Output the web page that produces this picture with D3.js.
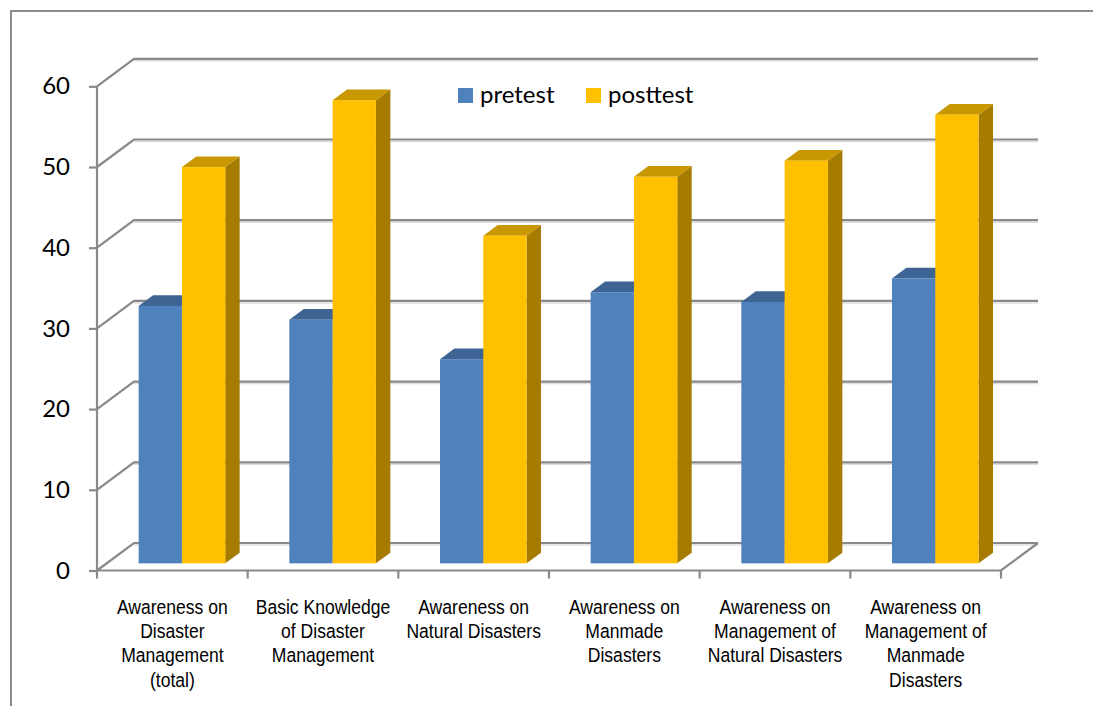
<!DOCTYPE html>
<html>
<head>
<meta charset="utf-8">
<script src="https://cdn.jsdelivr.net/npm/d3@7"></script>
<style>
  html, body { margin: 0; padding: 0; background: #fff; }
  svg { display: block; }
</style>
</head>
<body>
<svg id="chart" width="1093" height="706"></svg>
<script>
// Survey results: pretest vs posttest awareness scores
const categories = [
  ["Awareness on", "Disaster", "Management", "(total)"],
  ["Basic Knowledge", "of Disaster", "Management"],
  ["Awareness on", "Natural Disasters"],
  ["Awareness on", "Manmade", "Disasters"],
  ["Awareness on", "Management of", "Natural Disasters"],
  ["Awareness on", "Management of", "Manmade", "Disasters"]
];
const seriesNames = ["pretest", "posttest"];
const pretest  = [31.9, 30.2, 25.3, 33.6, 32.4, 35.3];
const posttest = [49.1, 57.4, 40.6, 47.9, 49.9, 55.6];
const yTicks = [0, 10, 20, 30, 40, 50, 60];

const colors = {
  pretest:  { front: "#4F81BD", top: "#3D6493", side: "#355A84" },
  posttest: { front: "#FFC000", top: "#C99700", side: "#A67C00" }
};

const svg = d3.select("#chart");
const W = 1093, H = 706;

// outer chart frame (top and left edges)
svg.append("path")
  .attr("d", `M11,${H} L11,11 L${W},11`)
  .attr("fill", "none").attr("stroke", "#8c8c8c").attr("stroke-width", 2);

// plot geometry (oblique 3D projection)
const x0 = 97, x1 = 1001;
const depth = { dx: 37, dy: -27.5 };           // full floor depth
const barFront = 0.26, barBack = 0.65;          // bar depth span as fraction of floor depth

const y = d3.scaleLinear().domain([0, 60]).range([570.5, 86.3]);
const xCat = d3.scaleBand().domain(d3.range(categories.length)).range([x0, x1]).paddingInner(0).paddingOuter(0);
const xSer = d3.scaleBand().domain(seriesNames).range([0, xCat.bandwidth()]).paddingInner(0).paddingOuter(0.74);

const gridColor = "#898989";
const shadowColor = "#dedede";

// walls: back-wall gridlines and side-wall diagonals
const grid = svg.append("g");
yTicks.forEach(v => {
  const yf = y(v), yb = y(v) + depth.dy;
  // soft shadow under back gridline
  grid.append("line")
    .attr("x1", x0 + depth.dx).attr("x2", x1 + depth.dx)
    .attr("y1", yb + 2).attr("y2", yb + 2)
    .attr("stroke", shadowColor).attr("stroke-width", 1.5);
  grid.append("path")
    .attr("d", `M${x0},${yf} L${x0 + depth.dx},${yb} L${x1 + depth.dx},${yb}`)
    .attr("fill", "none").attr("stroke", gridColor).attr("stroke-width", 2.2);
});

// floor: front edge and right diagonal
svg.append("path")
  .attr("d", `M${x0},${y(0)} L${x1},${y(0)} L${x1 + depth.dx},${y(0) + depth.dy}`)
  .attr("fill", "none").attr("stroke", gridColor).attr("stroke-width", 2.2);

// value axis (front left)
svg.append("line")
  .attr("x1", x0).attr("x2", x0).attr("y1", y(60)).attr("y2", y(0))
  .attr("stroke", gridColor).attr("stroke-width", 2.2);
const yAxis = d3.axisLeft(y).tickValues(yTicks).tickSize(8).tickPadding(19).tickFormat(d3.format("d"));
const yAxisG = svg.append("g").attr("transform", `translate(${x0},0)`).call(yAxis);
yAxisG.select(".domain").remove();
yAxisG.selectAll(".tick line").attr("stroke", gridColor).attr("stroke-width", 2.2);
yAxisG.selectAll(".tick text")
  .attr("fill", "#000")
  .style("font-family", "Lato, 'Open Sans', sans-serif")
  .style("font-size", "24px");

// category ticks along the floor front
d3.range(categories.length + 1).forEach(i => {
  const xx = x0 + i * xCat.step();
  svg.append("line")
    .attr("x1", xx).attr("x2", xx).attr("y1", y(0)).attr("y2", y(0) + 8)
    .attr("stroke", gridColor).attr("stroke-width", 2.2);
});

// bars
const offF = { dx: depth.dx * barFront, dy: depth.dy * barFront };
const dd = { dx: depth.dx * (barBack - barFront), dy: depth.dy * (barBack - barFront) };
const bars = svg.append("g");
categories.forEach((c, i) => {
  seriesNames.forEach(s => {
    const v = (s === "pretest" ? pretest : posttest)[i];
    const col = colors[s];
    const left = xCat(i) + xSer(s) + offF.dx;
    const right = left + xSer.bandwidth();
    const top = y(v) + offF.dy;
    const bot = y(0) + offF.dy;
    // right side
    bars.append("path")
      .attr("d", `M${right},${top} L${right + dd.dx},${top + dd.dy} L${right + dd.dx},${bot + dd.dy} L${right},${bot} Z`)
      .attr("fill", col.side);
    // top
    bars.append("path")
      .attr("d", `M${left},${top} L${left + dd.dx},${top + dd.dy} L${right + dd.dx},${top + dd.dy} L${right},${top} Z`)
      .attr("fill", col.top);
    // front
    bars.append("rect")
      .attr("x", left).attr("y", top)
      .attr("width", right - left).attr("height", bot - top)
      .attr("fill", col.front);
  });
});

// category labels (slightly condensed sans)
const labels = svg.append("g")
  .style("font-family", "'Liberation Sans', Arial, sans-serif")
  .style("font-size", "19.5px")
  .attr("fill", "#000")
  .attr("text-anchor", "middle");
categories.forEach((lines, i) => {
  const cx = xCat(i) + xCat.bandwidth() / 2;
  const t = labels.append("text")
    .attr("transform", `translate(${cx},613.5) scale(0.9,1)`)
    .attr("x", 0).attr("y", 0);
  lines.forEach((ln, k) => {
    t.append("tspan").attr("x", 0).attr("dy", k === 0 ? 0 : 24.5).text(ln);
  });
});

// legend
const legend = svg.append("g")
  .style("font-family", "Lato, 'Open Sans', sans-serif")
  .style("font-size", "24px");
const legendItems = [
  { name: "pretest", x: 458 },
  { name: "posttest", x: 586 }
];
legendItems.forEach(d => {
  legend.append("rect").attr("x", d.x).attr("y", 88).attr("width", 15).attr("height", 15)
    .attr("fill", colors[d.name].front);
  legend.append("text").attr("x", d.x + 22).attr("y", 103).attr("fill", "#000").text(d.name);
});
</script>
</body>
</html>
